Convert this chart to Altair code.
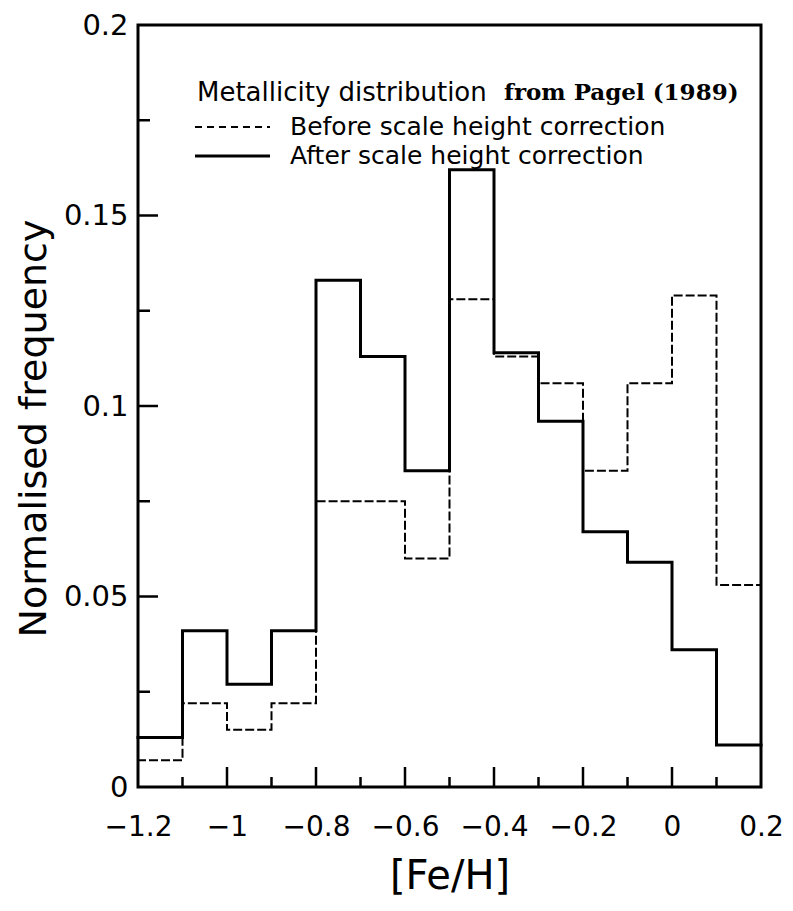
import altair as alt
import pandas as pd

# Bin left edges of [Fe/H] (bin width 0.1) and the upper end of the last bin
bin_left = [-1.2, -1.1, -1.0, -0.9, -0.8, -0.7, -0.6, -0.5, -0.4, -0.3, -0.2, -0.1, 0.0, 0.1]
upper_end = 0.2
before = [0.007, 0.022, 0.015, 0.022, 0.075, 0.075, 0.060, 0.128, 0.113, 0.106, 0.083, 0.106, 0.129, 0.053]
after = [0.013, 0.041, 0.027, 0.041, 0.133, 0.113, 0.083, 0.162, 0.114, 0.096, 0.067, 0.059, 0.036, 0.011]
series_names = ["Before scale height correction", "After scale height correction"]
legend_title = ["Metallicity distribution", "from Pagel (1989)"]

x_labels = [-1.2, -1.0, -0.8, -0.6, -0.4, -0.2, 0.0, 0.2]
y_labels = [0.0, 0.05, 0.1, 0.15, 0.2]
x_major = [-1.0, -0.8, -0.6, -0.4, -0.2, 0.0]
x_minor = [-1.1, -0.9, -0.7, -0.5, -0.3, -0.1, 0.1]
y_major = [0.05, 0.1, 0.15]
y_minor = [0.025, 0.075, 0.125, 0.175]

rows = []
for name, vals in zip(series_names, [before, after]):
    for x, v in zip(bin_left, vals):
        rows.append({"feh": x, "freq": v, "series": name})
    rows.append({"feh": upper_end, "freq": vals[-1], "series": name})
df = pd.DataFrame(rows)

FONT = "DejaVu Sans"
W, H = 623, 762
xscale = alt.Scale(domain=[-1.2, 0.2], nice=False, zero=False)
yscale = alt.Scale(domain=[0, 0.2], nice=False)
dash_scale = alt.Scale(domain=series_names, range=[[7, 5], [1, 0]])
width_scale = alt.Scale(domain=series_names, range=[2, 3])

lines = alt.Chart(df).mark_line(interpolate="step-after", color="black", strokeCap="square").encode(
    x=alt.X("feh:Q", scale=xscale,
            axis=alt.Axis(values=x_labels, format="~g", title="[Fe/H]", grid=False, domain=False,
                          ticks=False, labelFlush=False, labelOverlap=False, labelBound=False,
                          labelFontSize=28, labelPadding=26, labelColor="black",
                          labelExpr="replace(datum.label, '-', '\u2212')",
                          titleFontSize=40, titleFontWeight="normal", titleColor="black",
                          titleY=89, titleBaseline="middle")),
    y=alt.Y("freq:Q", scale=yscale,
            axis=alt.Axis(values=y_labels, format="~g", title="Normalised frequency", grid=False,
                          domain=False, ticks=False, labelFlush=False, labelOverlap=False,
                          labelBound=False, labelFontSize=29, labelPadding=10, labelColor="black",
                          titleFontSize=38, titleFontWeight="normal", titleColor="black",
                          titleX=-104, titleY=403, titleAlign="center", titleBaseline="middle")),
    strokeDash=alt.StrokeDash("series:N", scale=dash_scale, legend=None),
    strokeWidth=alt.StrokeWidth("series:N", scale=width_scale, legend=None),
)

xmaj = alt.Chart(pd.DataFrame({"t": x_major})).mark_rule(color="black", strokeWidth=2.5).encode(
    x=alt.X("t:Q", scale=xscale), y=alt.value(H), y2=alt.value(H - 20))
xmin = alt.Chart(pd.DataFrame({"t": x_minor})).mark_rule(color="black", strokeWidth=2.5).encode(
    x=alt.X("t:Q", scale=xscale), y=alt.value(H), y2=alt.value(H - 10))
ymaj = alt.Chart(pd.DataFrame({"t": y_major})).mark_rule(color="black", strokeWidth=2.5).encode(
    y=alt.Y("t:Q", scale=yscale), x=alt.value(0), x2=alt.value(20))
ymin = alt.Chart(pd.DataFrame({"t": y_minor})).mark_rule(color="black", strokeWidth=2.5).encode(
    y=alt.Y("t:Q", scale=yscale), x=alt.value(0), x2=alt.value(12))

# Legend (drawn inside the plot as in the original figure)
leg_y = {0: 102, 1: 131}
leg_lines = []
leg_texts = []
for i, name in enumerate(series_names):
    d = pd.DataFrame({"series": [name]})
    leg_lines.append(alt.Chart(d).mark_rule(color="black").encode(
        x=alt.value(57), x2=alt.value(132), y=alt.value(leg_y[i]),
        strokeDash=alt.StrokeDash("series:N", scale=dash_scale, legend=None),
        strokeWidth=alt.StrokeWidth("series:N", scale=width_scale, legend=None)))
    leg_texts.append(alt.Chart(d).mark_text(
        align="left", baseline="middle", fontSize=25, font=FONT, color="black").encode(
        text="series:N", x=alt.value(152), y=alt.value(leg_y[i])))

title1 = alt.Chart(pd.DataFrame({"s": [legend_title[0]]})).mark_text(
    align="left", baseline="middle", fontSize=26, font=FONT, color="black").encode(
    text="s:N", x=alt.value(59), y=alt.value(68))
title2 = alt.Chart(pd.DataFrame({"s": [legend_title[1]]})).mark_text(
    align="left", baseline="middle", fontSize=23, fontWeight="bold", font="DejaVu Serif",
    color="black").encode(text="s:N", x=alt.value(366), y=alt.value(68))

chart = alt.layer(lines, xmaj, xmin, ymaj, ymin, *leg_lines, *leg_texts, title1, title2).properties(
    width=W, height=H,
    autosize=alt.AutoSizeParams(type="none"),
    padding={"left": 130, "top": 17, "right": 24, "bottom": 116},
).configure(font=FONT).configure_view(stroke="black", strokeWidth=3).configure_axis(
    labelFont=FONT, titleFont=FONT)

chart.save("out.html", embed_options={"renderer": "svg", "actions": False})
